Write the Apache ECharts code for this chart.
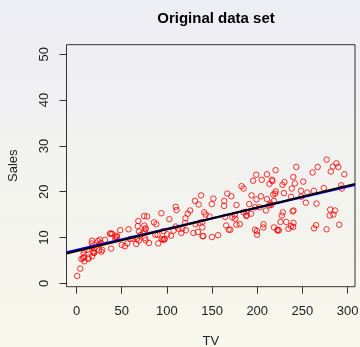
<!DOCTYPE html>
<html>
<head>
<meta charset="utf-8">
<script src="https://cdn.jsdelivr.net/npm/echarts@6/dist/echarts.min.js"></script>
<style>
    html, body { margin: 0; padding: 0; }
    #chart { width: 360px; height: 347px; }
</style>
</head>
<body>
<div id="chart"></div>
<script>
    // Advertising data: TV budget vs Sales
    var tv = [230.1, 44.5, 17.2, 151.5, 180.8, 8.7, 57.5, 120.2, 8.6, 199.8,
        66.1, 214.7, 23.8, 97.5, 204.1, 195.4, 67.8, 281.4, 69.2, 147.3,
        218.4, 237.4, 13.2, 228.3, 62.3, 262.9, 142.9, 240.1, 248.8, 70.6,
        292.9, 112.9, 97.2, 265.6, 95.7, 290.7, 266.9, 74.7, 43.1, 228,
        202.5, 177, 293.6, 206.9, 25.1, 175.1, 89.7, 239.9, 227.2, 66.9,
        199.8, 100.4, 216.4, 182.6, 262.7, 198.9, 7.3, 136.2, 210.8, 210.7,
        53.5, 261.3, 239.3, 102.7, 131.1, 69, 31.5, 139.3, 237.4, 216.8,
        199.1, 109.8, 26.8, 129.4, 213.4, 16.9, 27.5, 120.5, 5.4, 116,
        76.4, 239.8, 75.3, 68.4, 213.5, 193.2, 76.3, 110.7, 88.3, 109.8,
        134.3, 28.6, 217.7, 250.9, 107.4, 163.3, 197.6, 184.9, 289.7, 135.2,
        222.4, 296.4, 280.2, 187.9, 238.2, 137.9, 25, 90.4, 13.1, 255.4,
        225.8, 241.7, 175.7, 209.6, 78.2, 75.1, 139.2, 76.4, 125.7, 19.4,
        141.3, 18.8, 224, 123.1, 229.5, 87.2, 7.8, 80.2, 220.3, 59.6,
        0.7, 265.2, 8.4, 219.8, 36.9, 48.3, 25.6, 273.7, 43, 184.9,
        73.4, 193.7, 220.5, 104.6, 96.2, 140.3, 240.1, 243.2, 38, 44.7,
        280.7, 121, 197.6, 171.3, 187.8, 4.1, 93.9, 149.8, 11.7, 131.7,
        172.5, 85.7, 188.4, 163.5, 117.2, 234.5, 17.9, 206.8, 215.4, 284.3,
        50, 164.5, 19.6, 168.4, 222.4, 276.9, 248.4, 170.2, 276.7, 165.6,
        156.6, 218.5, 56.2, 287.6, 253.8, 205, 139.5, 191.1, 286, 18.7,
        39.5, 75.5, 17.2, 166.8, 149.7, 38.2, 94.2, 177, 283.6, 232.1];
    var sales = [22.1, 10.4, 9.3, 18.5, 12.9, 7.2, 11.8, 13.2, 4.8, 10.6,
        8.6, 17.4, 9.2, 9.7, 19, 22.4, 12.5, 24.4, 11.3, 14.6,
        18, 12.5, 5.6, 15.5, 9.7, 12, 15, 15.9, 18.9, 10.5,
        21.4, 11.9, 9.6, 17.4, 9.5, 12.8, 25.4, 14.7, 10.1, 21.5,
        16.6, 17.1, 20.7, 12.9, 8.5, 14.9, 10.6, 23.2, 14.8, 9.7,
        11.4, 10.7, 22.6, 21.2, 20.2, 23.7, 5.5, 13.2, 23.8, 18.4,
        8.1, 24.2, 15.7, 14, 18, 9.3, 9.5, 13.4, 18.9, 22.3,
        18.3, 12.4, 8.8, 11, 17, 8.7, 6.9, 14.2, 5.3, 11,
        11.8, 12.3, 11.3, 13.6, 21.7, 15.2, 12, 16, 12.9, 16.7,
        11.2, 7.3, 19.4, 22.2, 11.5, 16.9, 11.7, 15.5, 25.4, 17.2,
        11.7, 23.8, 14.8, 14.7, 20.7, 19.2, 7.2, 8.7, 5.3, 19.8,
        13.4, 21.8, 14.1, 15.9, 14.6, 12.6, 12.2, 9.4, 15.9, 6.6,
        15.5, 7, 11.6, 15.2, 19.7, 10.6, 6.6, 8.8, 24.7, 9.7,
        1.6, 12.7, 5.7, 19.6, 10.8, 11.6, 9.5, 20.8, 9.6, 20.7,
        10.9, 19.2, 20.1, 10.4, 11.4, 10.3, 13.2, 25.4, 10.9, 10.1,
        16.1, 11.6, 16.6, 19, 15.6, 3.2, 15.3, 10.1, 7.3, 12.9,
        14.4, 13.3, 14.9, 18, 11.9, 11.9, 8, 12.2, 17.1, 15,
        8.4, 14.5, 7.6, 11.7, 11.5, 27, 20.2, 11.7, 11.8, 12.6,
        10.5, 12.2, 8.7, 26.2, 17.6, 22.6, 10.3, 17.3, 15.9, 6.7,
        10.8, 9.9, 5.9, 19.6, 17.3, 7.6, 9.7, 12.8, 25.5, 13.4];

    var xTicks = [0, 50, 100, 150, 200, 250, 300];
    var yTicks = [0, 10, 20, 30, 40, 50];

    // second fitted line (blue), intercept / slope
    var blueFit = [7.28, 0.046];

    var xMin = -11.1, xMax = 308.2;
    var yMin = -0.74, yMax = 52.1;

    // least squares fit (black line)
    var n = tv.length, mx = 0, my = 0;
    for (var i = 0; i < n; i++) { mx += tv[i]; my += sales[i]; }
    mx /= n; my /= n;
    var sxy = 0, sxx = 0;
    for (var i = 0; i < n; i++) {
        sxy += (tv[i] - mx) * (sales[i] - my);
        sxx += (tv[i] - mx) * (tv[i] - mx);
    }
    var b1 = sxy / sxx, b0 = my - b1 * mx;

    var points = [];
    for (var i = 0; i < n; i++) points.push([tv[i], sales[i]]);

    var font = 'Liberation Sans, Arial, sans-serif';
    var chart = echarts.init(document.getElementById('chart'));
    var option = {
        animation: false
        , backgroundColor: new echarts.graphic.LinearGradient(0, 0, 0, 1, [
            {offset: 0, color: '#ededf4'},
            {offset: 1, color: '#f8f8ec'}
        ])
        , title: {
            text: 'Original data set', left: 211, top: 6, textAlign: 'center',
            textStyle: {fontFamily: font, fontSize: 15, fontWeight: 'bold', color: '#000'}
        }
        , grid: {
            left: 66.5, top: 44.7, right: 5, bottom: 60.3, outerBoundsMode: 'none',
            show: true, borderColor: '#333', borderWidth: 1
        }
        , xAxis: {
            type: 'value', min: xMin, max: xMax,
            name: 'TV', nameLocation: 'middle', nameGap: 48,
            nameTextStyle: {fontFamily: font, fontSize: 13, color: '#222'},
            axisLine: {show: false, onZero: false},
            splitLine: {show: false},
            axisTick: {show: true, length: 7, customValues: xTicks, lineStyle: {color: '#333'}},
            axisLabel: {customValues: xTicks, margin: 18, fontFamily: font, fontSize: 13, color: '#222'}
        }
        , yAxis: {
            type: 'value', min: yMin, max: yMax,
            name: 'Sales', nameLocation: 'middle', nameGap: 47,
            nameTextStyle: {fontFamily: font, fontSize: 13, color: '#222'},
            axisLine: {show: false, onZero: false},
            splitLine: {show: false},
            axisTick: {show: true, length: 7, customValues: yTicks, lineStyle: {color: '#333'}},
            axisLabel: {customValues: yTicks, rotate: 90, margin: 16, fontFamily: font, fontSize: 13, color: '#222'}
        }
        , series: [
            {
                type: 'scatter', data: points, symbol: 'circle', symbolSize: 5.5,
                itemStyle: {color: 'rgba(0,0,0,0)', borderColor: '#ff0000', borderWidth: 1}
            },
            {
                type: 'line', showSymbol: false, symbol: 'none',
                data: [[xMin, blueFit[0] + blueFit[1] * xMin], [xMax, blueFit[0] + blueFit[1] * xMax]],
                lineStyle: {color: '#0000ff', width: 2}
            },
            {
                type: 'line', showSymbol: false, symbol: 'none',
                data: [[xMin, b0 + b1 * xMin], [xMax, b0 + b1 * xMax]],
                lineStyle: {color: '#000', width: 2}
            }
        ]
    };
    chart.setOption(option);
</script>
</body>
</html>
